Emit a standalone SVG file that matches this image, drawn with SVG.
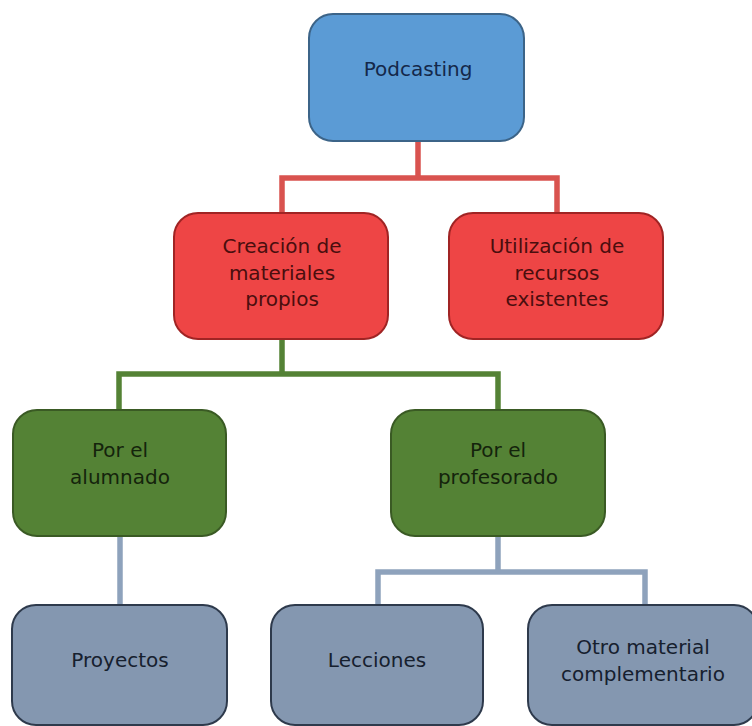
<svg xmlns="http://www.w3.org/2000/svg" width="752" height="726" viewBox="0 0 752 726">
<style>
text{font-family:"DejaVu Sans","Verdana",sans-serif;font-size:20px;text-anchor:middle}
.blue rect{fill:#5B9BD5;stroke:#3C6488;stroke-width:2}
.blue text{fill:#14284A}
.red rect{fill:#EE4545;stroke:#A02424;stroke-width:2}
.red text{fill:#4A0E0E}
.green rect{fill:#548235;stroke:#3A5A24;stroke-width:2}
.green text{fill:#14240C}
.grey rect{fill:#8497B0;stroke:#2E3A4C;stroke-width:2}
.grey text{fill:#16202E}
.c{fill:none;stroke-width:5.5}
</style>
<rect width="752" height="726" fill="#ffffff"/>
<g id="connectors">
<path class="c" stroke="#D9534F" d="M418 141V178M282 213V178H557V213"/>
<path class="c" stroke="#548235" d="M282 339V374M119 410V374H498V410"/>
<path class="c" stroke="#8EA2BC" d="M120 537V605M498 537V572M378 605V572H645V605"/>
</g>
<g id="podcasting" class="blue">
<rect x="309" y="14" width="215" height="127" rx="24"/>
<text x="418" y="76">Podcasting</text>
</g>
<g id="creacion" class="red">
<rect x="174" y="213" width="214" height="126" rx="24"/>
<text x="282" y="253">Creación de</text>
<text x="282" y="280">materiales</text>
<text x="282" y="306">propios</text>
</g>
<g id="utilizacion" class="red">
<rect x="449" y="213" width="214" height="126" rx="24"/>
<text x="557" y="253">Utilización de</text>
<text x="557" y="280">recursos</text>
<text x="557" y="306">existentes</text>
</g>
<g id="alumnado" class="green">
<rect x="13" y="410" width="213" height="126" rx="24"/>
<text x="120" y="457">Por el</text>
<text x="120" y="484">alumnado</text>
</g>
<g id="profesorado" class="green">
<rect x="391" y="410" width="214" height="126" rx="24"/>
<text x="498" y="457">Por el</text>
<text x="498" y="484">profesorado</text>
</g>
<g id="proyectos" class="grey">
<rect x="12" y="605" width="215" height="120" rx="24"/>
<text x="120" y="667">Proyectos</text>
</g>
<g id="lecciones" class="grey">
<rect x="271" y="605" width="212" height="120" rx="24"/>
<text x="377" y="667">Lecciones</text>
</g>
<g id="otro" class="grey">
<rect x="528" y="605" width="230" height="120" rx="24"/>
<text x="643" y="654">Otro material</text>
<text x="643" y="681">complementario</text>
</g>
</svg>
